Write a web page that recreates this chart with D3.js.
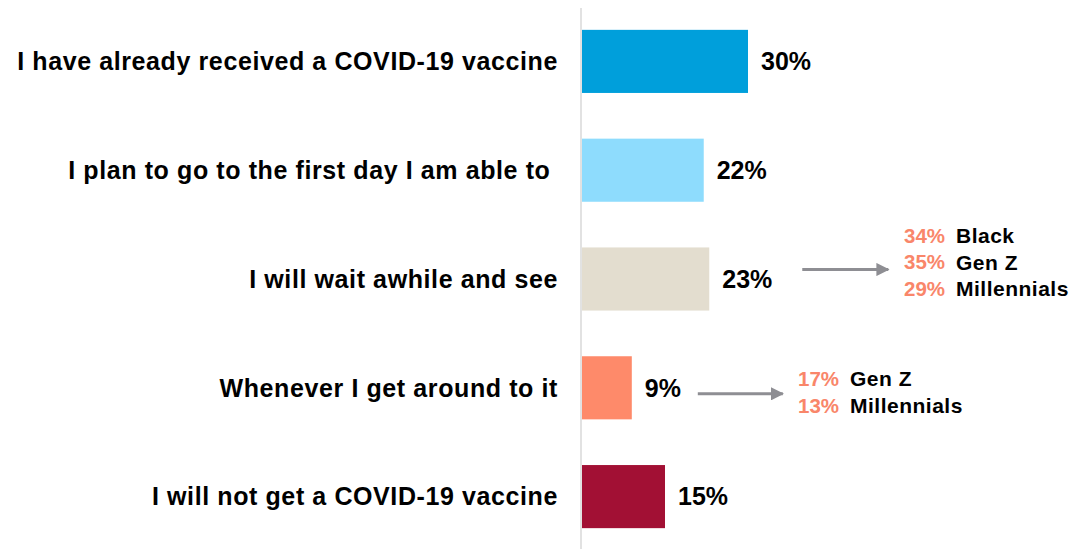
<!DOCTYPE html>
<html>
<head>
<meta charset="utf-8">
<script src="https://cdn.jsdelivr.net/npm/d3@7/dist/d3.min.js"></script>
<style>
  html, body { margin: 0; padding: 0; background: #fff; }
  svg { display: block; }
  text { font-family: "Liberation Sans", Arial, sans-serif; font-weight: bold; }
</style>
</head>
<body>
<svg id="chart" width="1074" height="549"></svg>
<script>
// ---- data ----
const categories = [
  "I have already received a COVID-19 vaccine",
  "I plan to go to the first day I am able to ",
  "I will wait awhile and see",
  "Whenever I get around to it",
  "I will not get a COVID-19 vaccine"
];
const values = [30, 22, 23, 9, 15];
const barColors = ["#009FDB", "#8EDCFD", "#E3DDCF", "#FE8A6A", "#A21034"];

// annotation breakdowns (attached to categories by index)
const annotationCategory = [2, 3];
const annotationPercents = [["34%", "35%", "29%"], ["17%", "13%"]];
const annotationGroups = [["Black", "Gen Z", "Millennials"], ["Gen Z", "Millennials"]];

// ---- layout ----
const svg = d3.select("#chart");
const W = 1074, H = 549;

const y = d3.scaleBand()
  .domain(categories)
  .range([7, 551])
  .paddingInner(0.42)
  .paddingOuter(0.21);

const x = d3.scaleLinear()
  .domain([0, 30])
  .range([582, 748]);

// bars
svg.append("g").selectAll("rect")
  .data(categories)
  .join("rect")
  .attr("x", x(0))
  .attr("y", d => y(d))
  .attr("width", (d, i) => x(values[i]) - x(0))
  .attr("height", y.bandwidth())
  .attr("fill", (d, i) => barColors[i]);

// vertical axis line
svg.append("line")
  .attr("x1", 581).attr("x2", 581)
  .attr("y1", 8).attr("y2", H)
  .attr("stroke", "#D9D9D9")
  .attr("stroke-width", 1.5);

// category labels
svg.append("g").selectAll("text")
  .data(categories)
  .join("text")
  .attr("x", 558)
  .attr("y", d => y(d) + y.bandwidth() / 2)
  .attr("dy", "0.35em")
  .attr("text-anchor", "end")
  .style("white-space", "pre")
  .style("letter-spacing", "0.6px")
  .attr("font-size", 25)
  .attr("fill", "#000")
  .text(d => d);

// value labels
svg.append("g").selectAll("text")
  .data(categories)
  .join("text")
  .attr("x", (d, i) => x(values[i]) + 13)
  .attr("y", d => y(d) + y.bandwidth() / 2)
  .attr("dy", "0.35em")
  .attr("font-size", 25)
  .attr("fill", "#000")
  .text((d, i) => values[i] + "%");

// arrow marker
svg.append("defs").append("marker")
  .attr("id", "arrow")
  .attr("viewBox", "0 0 10 10")
  .attr("refX", 9).attr("refY", 5)
  .attr("markerWidth", 4.4).attr("markerHeight", 4.4)
  .attr("orient", "auto")
  .append("path")
  .attr("d", "M0,0 L10,5 L0,10 z")
  .attr("fill", "#8E8E93");

// annotations
const annLayout = [
  { arrowStart: 30, arrowLen: 86, arrowDy: -9.5, textX: 904, firstRowDy: -43.5 },
  { arrowStart: 17, arrowLen: 85, arrowDy: 6, textX: 798, firstRowDy: -9 }
];
const rowH = 26.8;

annotationCategory.forEach((ci, k) => {
  const cat = categories[ci];
  const cy = y(cat) + y.bandwidth() / 2;
  const L = annLayout[k];
  const labelEnd = x(values[ci]) + 13 + (values[ci] >= 10 ? 50 : 36);
  const x1 = labelEnd + L.arrowStart;
  svg.append("line")
    .attr("x1", x1).attr("x2", x1 + L.arrowLen)
    .attr("y1", cy + L.arrowDy).attr("y2", cy + L.arrowDy)
    .attr("stroke", "#8E8E93")
    .attr("stroke-width", 3)
    .attr("marker-end", "url(#arrow)");
  const g = svg.append("g");
  annotationPercents[k].forEach((p, r) => {
    const ry = cy + L.firstRowDy + r * rowH;
    g.append("text")
      .attr("x", L.textX).attr("y", ry).attr("dy", "0.35em")
      .attr("font-size", 20.5)
      .attr("fill", "#F9866A")
      .text(p);
    g.append("text")
      .attr("x", L.textX + 52).attr("y", ry).attr("dy", "0.35em")
      .attr("font-size", 21)
      .style("letter-spacing", "0.5px")
      .attr("fill", "#000")
      .text(annotationGroups[k][r]);
  });
});
</script>
</body>
</html>
